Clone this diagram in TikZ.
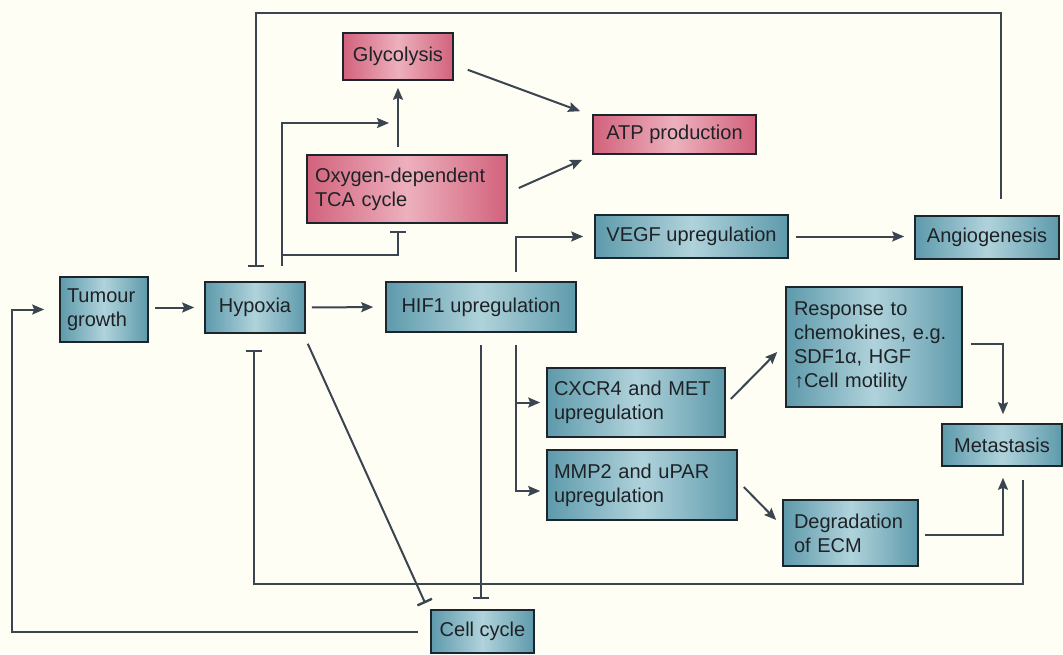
\documentclass[tikz,border=0pt]{standalone}
\usepackage{fontspec}
\setmainfont{Liberation Sans}
\usetikzlibrary{arrows.meta}
\definecolor{bg}{HTML}{FFFEF4}
\definecolor{pinkD}{HTML}{D2627C}
\definecolor{pinkL}{HTML}{EDB0BD}
\definecolor{blueD}{HTML}{5E9AAB}
\definecolor{blueL}{HTML}{B0D3DB}
\definecolor{boxline}{HTML}{1C252B}
\definecolor{lineC}{HTML}{3A4550}
\definecolor{txt}{HTML}{1E2226}
\tikzset{
  box/.style={draw=boxline, line width=1.6pt, inner sep=0pt, text=txt,
    font=\fontsize{20}{24}\selectfont, anchor=center},
  pinkbox/.style={box, left color=pinkD, right color=pinkD, middle color=pinkL},
  bluebox/.style={box, left color=blueD, right color=blueD, middle color=blueL},
  conn/.style={draw=lineC, line width=2pt},
  arr/.style={conn, -{Stealth[length=12pt,width=10pt,inset=2pt]}},
  inh/.style={conn, -{Bar[width=16pt,line width=2.4pt]}},
}
\begin{document}
\begin{tikzpicture}[x=1pt,y=-1pt]
\useasboundingbox (0,0) rectangle (1063,654);
\fill[bg] (0,0) rectangle (1063,654);

% boxes
\node[pinkbox, minimum width=110pt, minimum height=47pt] (glyco) at (398,56.5) {Glycolysis};
\node[pinkbox, minimum width=200pt, minimum height=68pt, text width=184pt, align=left] (tca) at (407,189) {Oxygen-dependent\\TCA cycle};
\node[pinkbox, minimum width=163pt, minimum height=39pt] (atp) at (674.5,134.5) {ATP production};
\node[bluebox, minimum width=88pt, minimum height=65pt, text width=74pt, align=left] (tumour) at (104,309.5) {Tumour\\growth};
\node[bluebox, minimum width=100pt, minimum height=51pt] (hypoxia) at (255,307.5) {Hypoxia};
\node[bluebox, minimum width=190pt, minimum height=50pt] (hif) at (481,307) {HIF1 upregulation};
\node[bluebox, minimum width=193pt, minimum height=43pt] (vegf) at (691.5,236.5) {VEGF upregulation};
\node[bluebox, minimum width=144pt, minimum height=43pt] (angio) at (987,237.5) {Angiogenesis};
\node[bluebox, minimum width=176pt, minimum height=120pt, text width=160pt, align=left] (response) at (874,347) {Response to\\chemokines, e.g.\\SDF1α, HGF\\↑Cell motility};
\node[bluebox, minimum width=178pt, minimum height=69pt, text width=164pt, align=left] (cxcr) at (636,402.5) {CXCR4 and MET\\upregulation};
\node[bluebox, minimum width=190pt, minimum height=70pt, text width=176pt, align=left] (mmp) at (642,485) {MMP2 and uPAR\\upregulation};
\node[bluebox, minimum width=120pt, minimum height=42pt] (meta) at (1002,445) {Metastasis};
\node[bluebox, minimum width=135pt, minimum height=66pt, text width=113pt, align=left] (degr) at (850.5,533) {Degradation\\of ECM};
\node[bluebox, minimum width=103pt, minimum height=43pt] (cell) at (482.5,631.5) {Cell cycle};

% corner coordinates
\coordinate (tl1) at (1001,13);
\coordinate (tl2) at (256,13);
\coordinate (hx) at (282,123);
\coordinate (g1) at (282,255);
\coordinate (hv) at (516,236.5);
\coordinate (hb) at (516,491);
\coordinate (mx) at (1003,344);
\coordinate (dx) at (1003,535);
\coordinate (s1) at (1023,584);
\coordinate (s2) at (254,584);
\coordinate (c1) at (12,631.5);

% connectors
\draw[arr, shorten <=6pt, shorten >=10pt] (tumour.east |- hypoxia) -- (hypoxia.west);
\draw[arr, shorten <=6pt, shorten >=12pt] (hypoxia.east) -- (hif.west);
\draw[arr, shorten <=12pt, shorten >=15pt] (cell.west |- c1) -- (c1) |- (tumour.west);
\draw[inh, shorten <=16pt, shorten >=14pt] (angio.north -| tl1) -- (tl1) -- (tl2) -- (hypoxia.north -| tl2);
\draw[arr, shorten <=15pt, shorten >=9pt] (hypoxia.north -| hx) -- (hx) -- (hx -| glyco);
\draw[arr, shorten <=7pt, shorten >=7pt] (tca.north -| glyco) -- (glyco.south);
\draw[inh, shorten >=7pt] (g1) -- (g1 -| glyco) -- (tca.south -| glyco);
\draw[arr] ([shift={(14,-11)}]glyco.south east) -- ([shift={(-12,-3)}]atp.north west);
\draw[arr] ([shift={(11,-1)}]tca.east) -- ([shift={(-10,5)}]atp.south west);
\draw[arr, shorten <=9pt, shorten >=11pt] (hif.north -| hv) -- (hv) -- (vegf.west);
\draw[arr, shorten <=7pt, shorten >=10pt] (vegf.east) -- (angio.west |- vegf);
\draw[arr, shorten <=12pt, shorten >=6pt] (hif.south -| hv) -- (hb) -- (hb -| mmp.west);
\draw[arr, shorten >=6pt] (hv |- cxcr) -- (cxcr.west);
\draw[inh, shorten <=12pt, shorten >=10pt] (hif.south) -- (hif.south |- cell.north);
\draw[inh] ([shift={(2,10)}]hypoxia.south east) -- ([shift={(-5,-6)}]cell.north west);
\draw[arr] ([shift={(5,-3.5)}]cxcr.east) -- ([shift={(-8,5)}]response.west);
\draw[arr] ([shift={(6,2)}]mmp.east) -- ([shift={(-6,-13)}]degr.west);
\draw[arr, shorten <=8pt, shorten >=9pt] (response.east |- mx) -- (mx) -- (mx |- meta.north);
\draw[arr, shorten <=6pt, shorten >=11pt] (degr.east |- dx) -- (dx) -- (dx |- meta.south);
\draw[inh, shorten <=13pt, shorten >=16pt] (meta.south -| s1) -- (s1) -- (s2) -- (hypoxia.south -| s2);
\end{tikzpicture}
\end{document}
